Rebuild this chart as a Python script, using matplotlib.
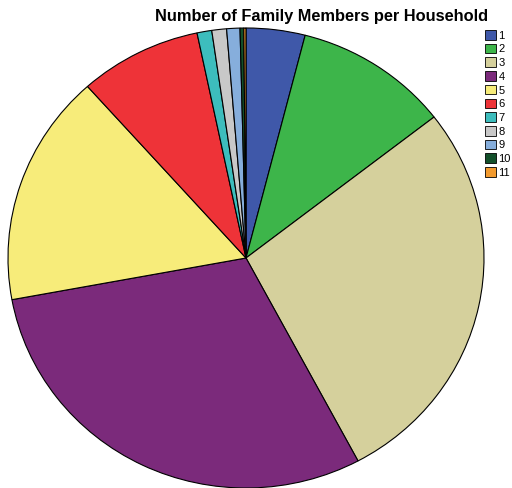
import matplotlib
matplotlib.use("Agg")
import matplotlib.pyplot as plt
from matplotlib.patches import Patch

# household size categories and their share (%)
labels = ["1", "2", "3", "4", "5", "6", "7", "8", "9", "10", "11"]
shares = [4.0, 10.5, 27.7, 29.9, 16.3, 8.3, 1.0, 1.0, 0.9, 0.25, 0.15]
colors = ["#3f58a9", "#3db54a", "#d5d09c", "#7b2a7b", "#f7ec7a", "#ee3338",
          "#3dbdbd", "#c8c8c8", "#86aedc", "#124f2a", "#f29a2e"]

plt.rcParams['font.family'] = ['Liberation Sans', 'DejaVu Sans']

fig = plt.figure(figsize=(5.12, 4.88), dpi=100)
ax = fig.add_axes([8 / 512, 0.0, 476 / 512, 460 / 488])
ax.pie(shares, colors=colors, startangle=90, counterclock=False,
       wedgeprops=dict(edgecolor="black", linewidth=0.8))
ax.set_aspect("auto")
ax.set_xlim(-1.0, 1.0)
ax.set_ylim(-1.0, 1.0)

fig.text(322 / 512, 1 - 16 / 488, "Number of Family Members per Household",
         ha="center", va="center", fontsize=11.8, fontweight="bold")

handles = [Patch(facecolor=c, edgecolor="black", linewidth=0.6) for c in colors]
fig.legend(handles, labels, loc="upper left", bbox_to_anchor=(485 / 512, 1 - 30 / 488),
           frameon=False, fontsize=8, handlelength=0.95, handleheight=0.95,
           handletextpad=0.25, labelspacing=0.28, borderpad=0.0, borderaxespad=0.0)

fig.savefig("out.png", dpi=100)
